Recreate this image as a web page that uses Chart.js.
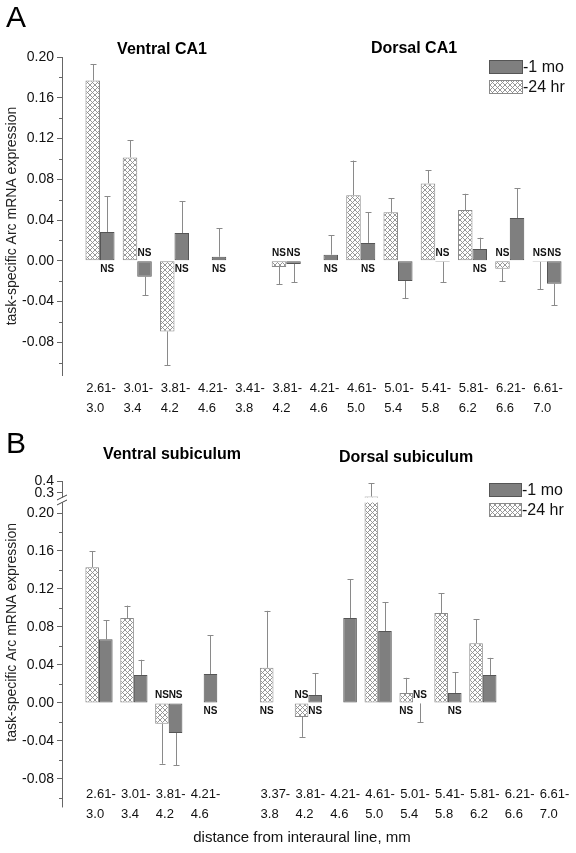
<!DOCTYPE html>
<html>
<head>
<meta charset="utf-8">
<script src="https://cdn.jsdelivr.net/npm/chart.js@4.4.1/dist/chart.umd.min.js"></script>
<style>
html, body { margin: 0; padding: 0; background: #fff; }
.panel { position: absolute; left: 0; width: 576px; }
#wrapA { top: 0; height: 420px; }
#wrapB { top: 420px; height: 433px; }
</style>
</head>
<body>
<div class="panel" id="wrapA"><canvas id="chartA"></canvas></div>
<div class="panel" id="wrapB"><canvas id="chartB"></canvas></div>
<script>
// A: CA1, one slot per section range
const labelsA = [['2.61-','3.0'],['3.01-','3.4'],['3.81-','4.2'],['4.21-','4.6'],['3.41-','3.8'],['3.81-','4.2'],['4.21-','4.6'],['4.61-','5.0'],['5.01-','5.4'],['5.41-','5.8'],['5.81-','6.2'],['6.21-','6.6'],['6.61-','7.0']]
const hr24A = [0.177, 0.1015, -0.0693, null, null, -0.006, null, 0.0644, 0.0476, 0.076, 0.0498, -0.0078, -0.001]
const hr24ErrA = [0.016, 0.017, 0.033, null, null, 0.017, null, 0.034, 0.014, 0.013, 0.016, 0.012, 0.027]
const mo1A = [0.0283, -0.0156, 0.0273, 0.004, null, -0.003, 0.006, 0.0176, -0.0198, -0.001, 0.0117, 0.042, -0.0224]
const mo1ErrA = [0.035, 0.018, 0.031, 0.028, null, 0.018, 0.019, 0.030, 0.017, 0.020, 0.011, 0.029, 0.021]
const ns24A = [0,0,0,0,0,1,0,0,0,0,0,1,1]
const ns1A = [1,1,1,1,0,1,1,1,0,1,1,0,1]
const yTicksA = [-0.08, -0.04, 0, 0.04, 0.08, 0.12, 0.16, 0.20]
const yMinorA = [-0.10, -0.06, -0.02, 0.02, 0.06, 0.10, 0.14, 0.18]

// B: subiculum, slot 4 is the empty gap between ventral and dorsal
const labelsB = [['2.61-','3.0'],['3.01-','3.4'],['3.81-','4.2'],['4.21-','4.6'],['',''],['3.37-','3.8'],['3.81-','4.2'],['4.21-','4.6'],['4.61-','5.0'],['5.01-','5.4'],['5.41-','5.8'],['5.81-','6.2'],['6.21-','6.6'],['6.61-','7.0']]
const hr24B = [0.143, 0.0895, -0.022, null, null, 0.037, -0.0147, null, 0.2825, 0.0105, 0.0947, 0.063, null, null]
const hr24ErrB = [0.017, 0.013, 0.042, null, null, 0.060, 0.021, null, 0.10, 0.016, 0.021, 0.025, null, null]
const mo1B = [0.067, 0.0295, -0.0316, 0.0305, null, null, 0.0084, 0.0895, 0.0758, -0.0005, 0.0105, 0.0295, null, null]
const mo1ErrB = [0.020, 0.016, 0.034, 0.041, null, null, 0.023, 0.041, 0.030, 0.020, 0.022, 0.018, null, null]
const ns24B = [0,0,1,0,0,1,1,0,0,1,0,0,0,0]
const ns1B = [0,0,1,1,0,0,1,0,0,1,1,0,0,0]
const yTicksB = [-0.08, -0.04, 0, 0.04, 0.08, 0.12, 0.16, 0.20, 0.3, 0.4]
const yMinorB = [-0.10, -0.06, -0.02, 0.02, 0.06, 0.10, 0.14, 0.18]

const FONT = "'Liberation Sans', Arial, sans-serif"
Chart.defaults.font.family = FONT

// broken axis in B: above 0.2 the scale is squashed
const BREAK_AT = 0.265
function squash(v) {
    if (v == null) return null
    if (v <= 0.2) return v
    if (v <= 0.3) return 0.2 + (v - 0.2) * 0.211
    return 0.2211 + (v - 0.3) * 0.126
}
function plain(v) { return v }

function hatch() {
    let c = document.createElement('canvas')
    c.width = 5; c.height = 5
    let g = c.getContext('2d')
    g.fillStyle = '#fff'
    g.fillRect(0, 0, 5, 5)
    g.strokeStyle = '#8c8c8c'
    g.lineWidth = 0.9
    g.beginPath()
    g.moveTo(0, 0); g.lineTo(5, 5)
    g.moveTo(5, 0); g.lineTo(0, 5)
    g.stroke()
    return g.createPattern(c, 'repeat')
}
const hatchFill = hatch()
const MO_FILL = '#7f7f7f', MO_EDGE = '#555', HR_EDGE = '#8a8a8a', AXIS = '#666'

const decoPlugin = {
    id: 'deco',
    afterDatasetsDraw(chart, args, o) {
        let ctx = chart.ctx, ys = chart.scales.y
        let area = chart.chartArea
        let zero = ys.getPixelForValue(0)
        let ax = Math.round(area.left - 0.5) + 0.5
        ctx.save()

        // axis line carried on below the plot (B labels sit beside it)
        ctx.strokeStyle = AXIS
        ctx.lineWidth = 1
        if (o.axisTo != null) {
            ctx.beginPath()
            ctx.moveTo(ax, area.bottom)
            ctx.lineTo(ax, ys.getPixelForValue(o.tf(o.axisTo)))
            ctx.stroke()
        }

        // minor ticks
        o.minor.forEach(v => {
            let py = Math.round(ys.getPixelForValue(o.tf(v))) + 0.5
            ctx.beginPath()
            ctx.moveTo(area.left - 3, py)
            ctx.lineTo(area.left, py)
            ctx.stroke()
        })

        // axis break
        if (o.breakAt) {
            let yb = ys.getPixelForValue(o.tf(o.breakAt))
            ctx.fillStyle = '#fff'
            ctx.fillRect(area.left - 6, yb - 2.5, 12, 5)
            o.series.forEach((s, di) => {
                let meta = chart.getDatasetMeta(di)
                s.values.forEach((v, i) => {
                    if (v != null && v > o.breakAt) {
                        let bar = meta.data[i]
                        ctx.fillRect(bar.x - bar.width / 2 - 1, yb - 2.5, bar.width + 2, 5)
                    }
                })
            })
            ctx.strokeStyle = '#444'
            ;[yb - 2.5, yb + 2.5].forEach(yy => {
                ctx.beginPath()
                ctx.moveTo(area.left - 5, yy + 2.5)
                ctx.lineTo(area.left + 5, yy - 2.5)
                ctx.stroke()
            })
        }

        // error bars and NS marks
        o.series.forEach((s, di) => {
            let meta = chart.getDatasetMeta(di)
            s.values.forEach((v, i) => {
                if (v == null) return
                let bar = meta.data[i]
                let bx = Math.round(bar.x) + 0.5
                let tip = v < 0 ? v - s.err[i] : v + s.err[i]
                let ty = ys.getPixelForValue(o.tf(tip))
                ctx.strokeStyle = '#8a8a8a'
                ctx.lineWidth = 1
                ctx.beginPath()
                ctx.moveTo(bx, bar.y)
                ctx.lineTo(bx, ty)
                ctx.moveTo(bx - 3, Math.round(ty) + 0.5)
                ctx.lineTo(bx + 3, Math.round(ty) + 0.5)
                ctx.stroke()
                if (s.ns[i]) {
                    ctx.fillStyle = '#111'
                    ctx.font = 'bold 10px ' + FONT
                    ctx.textAlign = 'center'
                    ctx.textBaseline = 'middle'
                    ctx.fillText('NS', bar.x, v < 0 ? zero - 8 : zero + 8)
                }
            })
        })
        ctx.restore()
    },
    afterDraw(chart, args, o) {
        let ctx = chart.ctx
        ctx.save()
        ctx.fillStyle = '#000'
        ctx.textBaseline = 'alphabetic'
        ctx.textAlign = 'left'
        ctx.font = '30px ' + FONT
        ctx.fillText(o.letter.text, o.letter.x, o.letter.y)

        ctx.font = 'bold 16px ' + FONT
        ctx.textAlign = 'center'
        ctx.textBaseline = 'middle'
        o.titles.forEach(t => ctx.fillText(t.text, t.x, t.y))

        // legend
        let lg = o.legend
        ctx.lineWidth = 1
        ctx.fillStyle = MO_FILL
        ctx.fillRect(lg.x, lg.y, lg.w, lg.h)
        ctx.strokeStyle = MO_EDGE
        ctx.strokeRect(lg.x + 0.5, lg.y + 0.5, lg.w - 1, lg.h - 1)
        ctx.fillStyle = hatchFill
        ctx.fillRect(lg.x, lg.y + lg.gap, lg.w, lg.h)
        ctx.strokeStyle = HR_EDGE
        ctx.strokeRect(lg.x + 0.5, lg.y + lg.gap + 0.5, lg.w - 1, lg.h - 1)
        ctx.fillStyle = '#111'
        ctx.font = '16px ' + FONT
        ctx.textAlign = 'left'
        ctx.fillText('-1 mo', lg.x + lg.w, lg.y + lg.h / 2 + 1)
        ctx.fillText('-24 hr', lg.x + lg.w, lg.y + lg.gap + lg.h / 2 + 1)

        if (o.xTitle) {
            ctx.font = '15px ' + FONT
            ctx.textAlign = 'center'
            ctx.fillText(o.xTitle.text, o.xTitle.x, o.xTitle.y)
        }
        ctx.restore()
    }
}

function makeChart(id, c) {
    let tickLabels = c.yTicks.map(v => v > 0.2 ? v.toFixed(1) : v.toFixed(2))
    return new Chart(document.getElementById(id), {
        type: 'bar',
        data: {
            datasets: [{
                label: '-24 hr',
                data: c.hr24.map((v, i) => ({x: i, y: c.tf(v)})),
                backgroundColor: hatchFill,
                borderColor: HR_EDGE,
                borderWidth: 1,
                borderSkipped: false
            }, {
                label: '-1 mo',
                data: c.mo1.map((v, i) => ({x: i, y: c.tf(v)})),
                backgroundColor: MO_FILL,
                borderColor: MO_EDGE,
                borderWidth: 1,
                borderSkipped: false
            }]
        },
        options: {
            responsive: true,
            maintainAspectRatio: false,
            animation: false,
            devicePixelRatio: 1,
            categoryPercentage: 0.78,
            barPercentage: 1,
            layout: { padding: { top: c.padTop, right: c.padRight, left: 0, bottom: 0 } },
            plugins: {
                legend: { display: false },
                tooltip: { enabled: false },
                deco: {
                    tf: c.tf,
                    minor: c.yMinor,
                    breakAt: c.breakAt,
                    axisTo: c.axisTo,
                    series: [
                        { values: c.hr24, err: c.hr24Err, ns: c.ns24 },
                        { values: c.mo1, err: c.mo1Err, ns: c.ns1 }
                    ],
                    letter: c.letter,
                    titles: c.titles,
                    legend: c.legend,
                    xTitle: c.xTitle
                }
            },
            scales: {
                x: {
                    type: 'linear',
                    min: c.xMin,
                    max: c.xMax,
                    offset: false,
                    afterFit: s => { s.height = c.xHeight },
                    afterBuildTicks: s => { s.ticks = c.labels.map((l, i) => ({value: i - 0.37})) },
                    ticks: {
                        callback: (v, i) => c.labels[i],
                        align: 'start',
                        autoSkip: false,
                        maxRotation: 0,
                        padding: c.xPad,
                        color: '#111',
                        font: { size: 13, lineHeight: 1.5 }
                    },
                    grid: { display: false, drawTicks: false },
                    border: { display: false }
                },
                y: {
                    min: c.yMin,
                    max: c.yMax,
                    afterFit: s => { s.width = 62 },
                    afterBuildTicks: s => { s.ticks = c.yTicks.map(v => ({value: c.tf(v)})) },
                    ticks: {
                        callback: (v, i) => tickLabels[i],
                        autoSkip: false,
                        padding: 3,
                        color: '#111',
                        font: { size: 14 }
                    },
                    grid: { drawOnChartArea: false, tickLength: 5, tickColor: AXIS },
                    border: { color: AXIS },
                    title: {
                        display: true,
                        text: 'task-specific Arc mRNA expression',
                        color: '#222',
                        font: { size: 14 },
                        padding: { top: 4, bottom: 0 }
                    }
                }
            }
        },
        plugins: [decoPlugin]
    })
}

makeChart('chartA', {
    labels: labelsA, hr24: hr24A, hr24Err: hr24ErrA, mo1: mo1A, mo1Err: mo1ErrA, ns24: ns24A, ns1: ns1A,
    yTicks: yTicksA, yMinor: yMinorA, tf: plain, yMin: -0.112, yMax: 0.20,
    xMin: -1.02, xMax: 12.51, padTop: 57, padRight: 10, xHeight: 45, xPad: 4,
    letter: { text: 'A', x: 6, y: 27 },
    titles: [{ text: 'Ventral CA1', x: 162, y: 50 }, { text: 'Dorsal CA1', x: 414, y: 49 }],
    legend: { x: 489, y: 60, w: 34, h: 14, gap: 20 }
})

makeChart('chartB', {
    labels: labelsB, hr24: hr24B, hr24Err: hr24ErrB, mo1: mo1B, mo1Err: mo1ErrB, ns24: ns24B, ns1: ns1B,
    yTicks: yTicksB, yMinor: yMinorB, tf: squash, yMin: -0.085, yMax: squash(0.4), breakAt: BREAK_AT, axisTo: -0.11,
    xMin: -1.06, xMax: 13.44, padTop: 61, padRight: 8, xHeight: 69.3, xPad: 1,
    letter: { text: 'B', x: 6, y: 33 },
    titles: [{ text: 'Ventral subiculum', x: 172, y: 35 }, { text: 'Dorsal subiculum', x: 406, y: 38 }],
    legend: { x: 489, y: 63, w: 33, h: 14, gap: 20 },
    xTitle: { text: 'distance from interaural line, mm', x: 302, y: 418 }
})
</script>
</body>
</html>
